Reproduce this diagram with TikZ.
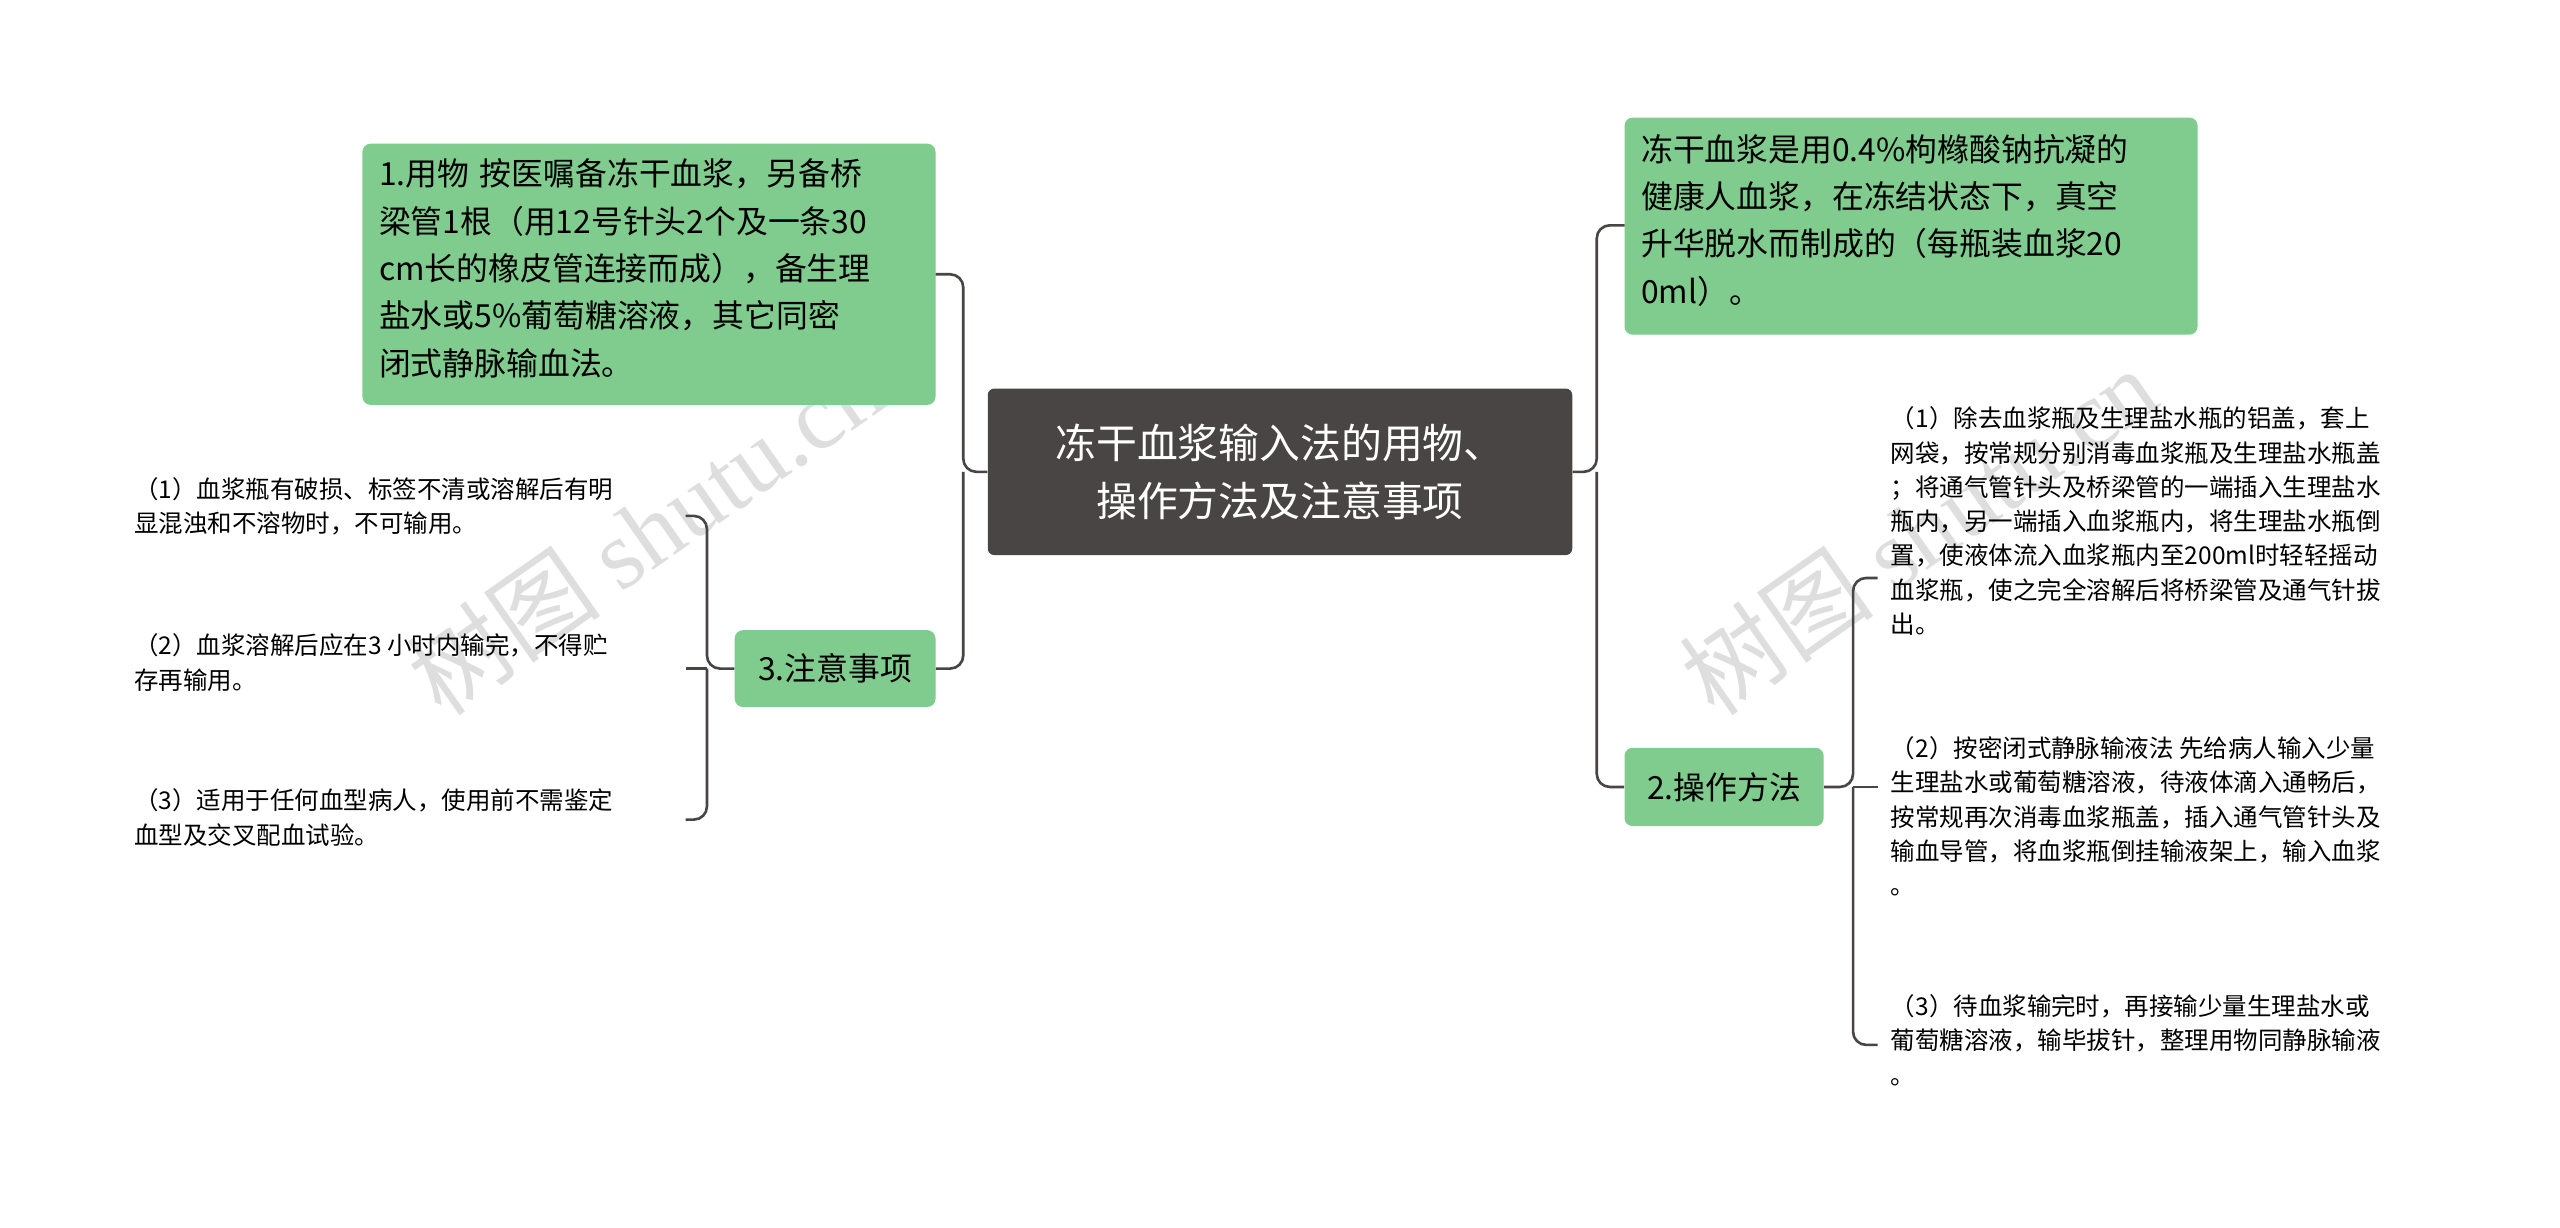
\documentclass[tikz,border=0pt]{standalone}
\usepackage{fontspec}
\setmainfont{Noto Sans CJK SC}
\newfontfamily\wmfont{Liberation Serif}
\begin{document}
\begin{tikzpicture}[x=1pt,y=-1pt,
  conn/.style={draw=lc,line width=1.6pt,rounded corners=8pt},
  leaf/.style={font=\fontsize{15}{21}\selectfont,align=left,anchor=north west,inner sep=0pt}]
\definecolor{gfill}{HTML}{7FCC8E}
\definecolor{lc}{HTML}{4A4545}
\definecolor{rootc}{HTML}{4A4545}
\useasboundingbox (0,0) rectangle (1568,752);
\fill[white] (0,0) rectangle (1568,752);
% watermarks (behind)
\node[rotate=35,text=black!13,font=\fontsize{60}{60}\selectfont] (wm1) at (395,325) {树图 \wmfont shutu.cn};
\node[rotate=35,text=black!13,font=\fontsize{60}{60}\selectfont] (wm2) at (1175,325) {树图 \wmfont shutu.cn};
% root
\node[fill=rootc,rounded corners=4pt,minimum width=358,minimum height=102,text=white,align=center,font=\fontsize{25}{36}\selectfont] (root) at (784,289) {冻干血浆输入法的用物、\\操作方法及注意事项};
% top-left
\path[fill=gfill,rounded corners=5pt] (222,88) rectangle (573,248);
\node[leaf,font=\fontsize{19.5}{29}\selectfont,text width=345] (n1) at (232,97) {1.用物 按医嘱备冻干血浆，另备桥\\梁管1根（用12号针头2个及一条30\\cm长的橡皮管连接而成），备生理\\盐水或5\%葡萄糖溶液，其它同密\\闭式静脉输血法。};
\coordinate (n1c) at (573,168);
% 3.
\node[fill=gfill,rounded corners=5pt,minimum width=123,minimum height=47,font=\fontsize{19.5}{22}\selectfont] (n3) at (511.5,409.5) {3.注意事项};
% right top
\path[fill=gfill,rounded corners=5pt] (995,72) rectangle (1346,205);
\node[leaf,font=\fontsize{19.5}{29}\selectfont,text width=345] (n0) at (1005,82) {冻干血浆是用0.4\%枸橼酸钠抗凝的\\健康人血浆，在冻结状态下，真空\\升华脱水而制成的（每瓶装血浆20\\0ml）。};
\coordinate (n0c) at (995,138);
% 2.
\node[fill=gfill,rounded corners=5pt,minimum width=122,minimum height=48,font=\fontsize{19.5}{22}\selectfont] (n2) at (1056,482) {2.操作方法};
% root connectors
\draw[conn] (root.west) -- (590,289) |- (n1c);
\draw[conn] (590,289) |- (n3.east);
\draw[conn] (root.east) -- (978,289) |- (n0c);
\draw[conn] (978,289) |- (n2.west);
% left leaves
\node[leaf] (l1) at (82,292) {（1）血浆瓶有破损、标签不清或溶解后有明\\显混浊和不溶物时，不可输用。};
\node[leaf] (l2) at (82,388) {（2）血浆溶解后应在3 小时内输完，不得贮\\存再输用。};
\node[leaf] (l3) at (82,483) {（3）适用于任何血型病人，使用前不需鉴定\\血型及交叉配血试验。};
\coordinate (c1) at (420,316);
\coordinate (c2) at (420,409.5);
\coordinate (c3) at (420,502);
\draw[conn] (n3.west) -- (433,409.5) |- (c1);
\draw[conn] (433,409.5) |- (c3);
\draw[conn] (433,409.5) -- (c2);
% right leaves
\node[leaf] (r1) at (1158,249) {（1）除去血浆瓶及生理盐水瓶的铝盖，套上\\网袋，按常规分别消毒血浆瓶及生理盐水瓶盖\\；将通气管针头及桥梁管的一端插入生理盐水\\瓶内，另一端插入血浆瓶内，将生理盐水瓶倒\\置，使液体流入血浆瓶内至200ml时轻轻摇动\\血浆瓶，使之完全溶解后将桥梁管及通气针拔\\出。};
\node[leaf] (r2) at (1158,451) {（2）按密闭式静脉输液法 先给病人输入少量\\生理盐水或葡萄糖溶液，待液体滴入通畅后，\\按常规再次消毒血浆瓶盖，插入通气管针头及\\输血导管，将血浆瓶倒挂输液架上，输入血浆\\。};
\node[leaf] (r3) at (1158,609) {（3）待血浆输完时，再接输少量生理盐水或\\葡萄糖溶液，输毕拔针，整理用物同静脉输液\\。};
\coordinate (d1) at (1150,354);
\coordinate (d2) at (1150,482);
\coordinate (d3) at (1150,640);
\draw[conn] (n2.east) -- (1135,482) |- (d1);
\draw[conn] (1135,482) |- (d3);
\draw[conn] (1135,482) -- (d2);
\end{tikzpicture}
\end{document}
